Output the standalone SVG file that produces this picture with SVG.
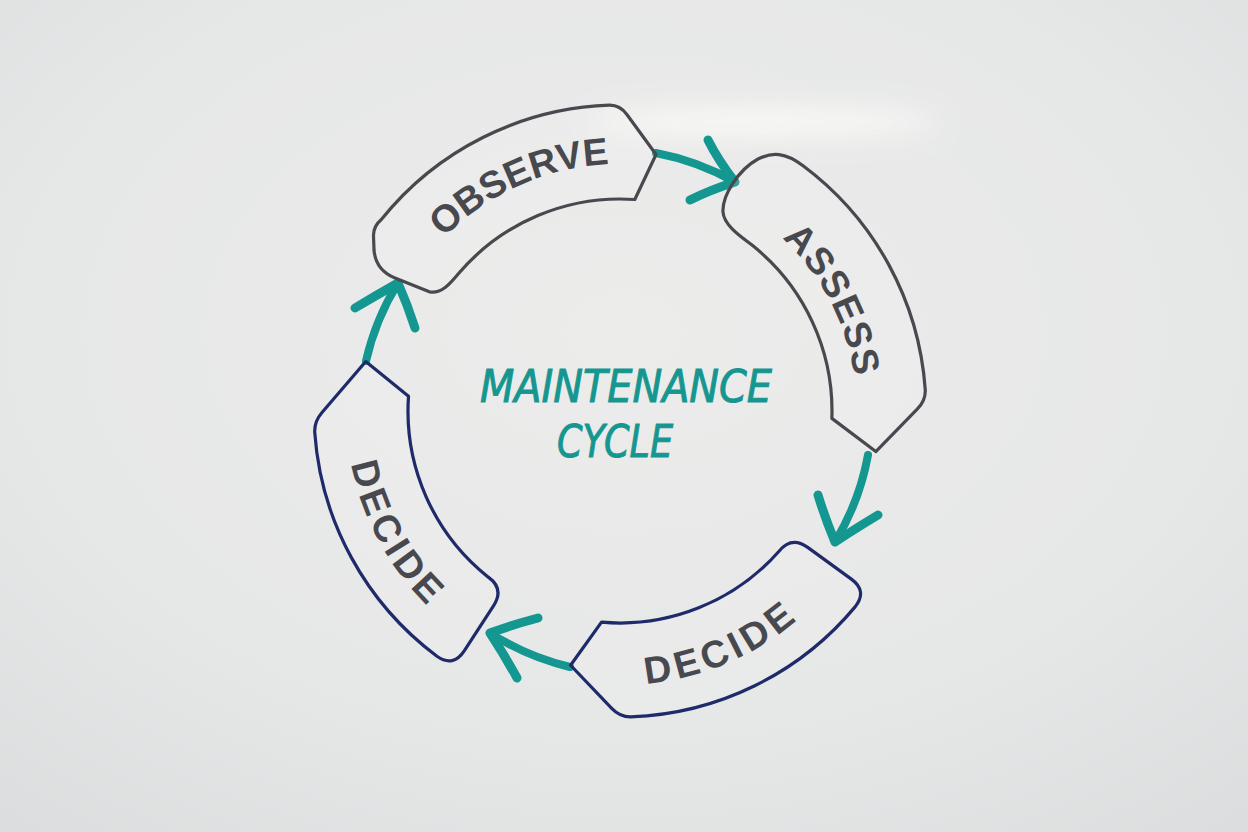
<svg xmlns="http://www.w3.org/2000/svg" width="1248" height="832" viewBox="0 0 1248 832">
  <defs>
    <radialGradient id="bg" cx="0.5" cy="0.4" r="0.8">
      <stop offset="0" stop-color="#ececeb"/>
      <stop offset="0.6" stop-color="#e6e7e7"/>
      <stop offset="1" stop-color="#dbdcdd"/>
    </radialGradient>
    <filter id="blur" x="-50%" y="-100%" width="200%" height="300%">
      <feGaussianBlur stdDeviation="14"/>
    </filter>
    <path id="tpObserve" d="M 398.0 302.72 A 247 247 0 0 1 688.08 173.57"/>
    <path id="tpAssess" d="M 710.70 192.04 A 237 237 0 0 1 851.38 462.30"/>
    <path id="tpDecideB" d="M 541.26 673.44 A 274 274 0 0 0 864.78 534.11"/>
    <path id="tpDecideL" d="M 351.41 356.84 A 274 274 0 0 0 520.02 666.11"/>
  </defs>
  <style>
    .seg { stroke-width: 3.2; stroke-linejoin: round; fill: #ffffff; fill-opacity: 0.12; }
    .gray { stroke: #48484f; }
    .navy { stroke: #1f2a6a; }
    .lbl { font-family: "Liberation Sans", Arial, sans-serif; font-weight: bold; font-size: 38px; fill: #48484f; }
    .arrow { fill: none; stroke: #139790; stroke-width: 8; stroke-linecap: round; stroke-linejoin: round; }
    .barb { fill: none; stroke: #139790; stroke-width: 9; stroke-linecap: round; stroke-linejoin: round; }
    .title { font-family: "DejaVu Sans Condensed", "DejaVu Sans", sans-serif; font-style: italic; font-size: 44px; fill: #169690; stroke: #169690; stroke-width: 0.9; }
  </style>

  <rect width="1248" height="832" fill="url(#bg)"/>
  <ellipse cx="765" cy="122" rx="175" ry="14" fill="#fbfbf8" opacity="0.95" filter="url(#blur)"/>

  <g id="connectors">
    <g id="arrow-observe-assess">
      <path class="arrow" d="M 656 153 A 258 258 0 0 1 735 182"/>
      <path class="barb" d="M 735 182 Q 718 160 708 140 M 735 182 Q 710 190 690 200"/>
    </g>
    <g id="arrow-assess-decide">
      <path class="arrow" d="M 868 455 A 255 255 0 0 1 835 542"/>
      <path class="barb" d="M 835 542 Q 825 518 818 495 M 835 542 Q 858 527 878 515"/>
    </g>
    <g id="arrow-decide-decide">
      <path class="arrow" d="M 570 667 A 257 257 0 0 1 490 633"/>
      <path class="barb" d="M 490 633 Q 515 624 538 618 M 490 633 Q 505 656 517 678"/>
    </g>
    <g id="arrow-decide-observe">
      <path class="arrow" d="M 366 361 A 257 257 0 0 1 398 283"/>
      <path class="barb" d="M 398 283 Q 375 296 355 308 M 398 283 Q 408 306 415 328"/>
    </g>
  </g>

  <g id="node-observe">
    <path class="seg gray" d="M 381.32 219.51 A 306 306 0 0 1 609.32 105.19 Q 620 105 627.06 114.70 L 656.05 154.52 L 634.79 199.52 A 212 212 0 0 0 458.59 273.55 C 450.8 282.7 442 294 430 292 L 395 278 C 380 272 375 262 374 250 L 373.5 236 C 373.3 230 376 224 381.32 219.51 Z"/>
    <text class="lbl"><textPath href="#tpObserve" startOffset="50%" text-anchor="middle">OBSERVE</textPath></text>
  </g>

  <g id="node-assess">
    <path class="seg gray" d="M 803.06 165.76 A 306 306 0 0 1 925.25 389.65 Q 925.81 400.32 917.43 408.90 L 875.81 451.52 L 831.87 418.40 A 212 212 0 0 0 751.69 244.85 C 742.3 237.4 724 226 723 212 C 722 196 738 170 758 159 C 772 152 785 152 803.06 165.76 Z"/>
    <text class="lbl" letter-spacing="1"><textPath href="#tpAssess" startOffset="50%" text-anchor="middle">ASSESS</textPath></text>
  </g>

  <g id="node-decide-bottom">
    <path class="seg navy" d="M 855.30 606.63 A 306 306 0 0 1 630.68 716.81 Q 620 717 611.71 708.32 L 570.58 665.24 L 601.52 622.19 A 212 212 0 0 0 779.02 551.20 Q 791.51 535.61 807.69 547.37 L 851.38 579.10 Q 867.56 590.86 855.30 606.63 Z"/>
    <text class="lbl" letter-spacing="4.5"><textPath href="#tpDecideB" startOffset="50%" text-anchor="middle">DECIDE</textPath></text>
  </g>

  <g id="node-decide-left">
    <path class="seg navy" d="M 436.94 656.24 A 306 306 0 0 1 314.75 432.35 Q 314.19 421.68 322.00 412.57 L 365.76 361.58 L 408.52 396.21 A 212 212 0 0 0 488.31 577.15 Q 504.54 588.80 493.65 605.57 L 464.23 650.86 Q 453.34 667.63 436.94 656.24 Z"/>
    <text class="lbl" letter-spacing="4"><textPath href="#tpDecideL" startOffset="50%" text-anchor="middle">DECIDE</textPath></text>
  </g>

  <g id="title">
    <text class="title" x="480" y="402" textLength="292" lengthAdjust="spacingAndGlyphs">MAINTENANCE</text>
    <text class="title" x="557" y="457" textLength="116" lengthAdjust="spacingAndGlyphs">CYCLE</text>
  </g>
</svg>
